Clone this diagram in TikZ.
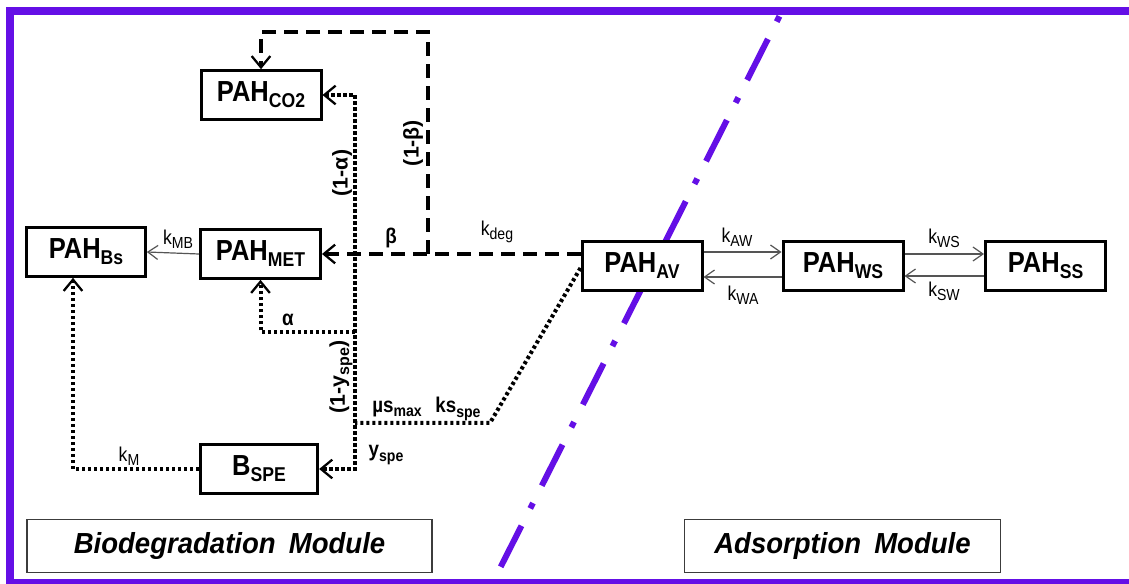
\documentclass[tikz,border=0pt]{standalone}
\usepackage{fontspec}
\setmainfont{Liberation Sans}[FakeStretch=0.88]
\newfontfamily\rotfont{Liberation Sans}
\newfontfamily\modfont{Liberation Sans}[FakeStretch=0.95]
\usetikzlibrary{arrows.meta,calc}
\definecolor{framec}{RGB}{100,15,230}
\definecolor{thinc}{RGB}{85,85,85}
\definecolor{modc}{RGB}{60,60,60}
\newcommand{\sbx}[1]{\raisebox{-4.5pt}{\fontsize{15pt}{15pt}\selectfont #1}}
\newcommand{\sbl}[1]{\raisebox{-3.2pt}{\fontsize{12pt}{12pt}\selectfont #1}}
\tikzset{
  box/.style={draw, line width=2.25pt, fill=white, minimum width=90pt, minimum height=36.5pt, inner sep=0pt,
    font=\fontsize{21.75pt}{24pt}\selectfont\bfseries},
  modbox/.style={draw=modc, line width=1.1pt, fill=white, inner sep=0pt, minimum height=39.5pt,
    font=\modfont\fontsize{21.75pt}{24pt}\selectfont\bfseries\itshape},
  lblb/.style={inner sep=0pt, font=\fontsize{16pt}{18pt}\selectfont\bfseries},
  lblrot/.style={inner sep=0pt, rotate=90, font=\rotfont\fontsize{16pt}{18pt}\selectfont\bfseries},
  lblr/.style={inner sep=0pt, font=\fontsize{15pt}{17pt}\selectfont},
  dsh/.style={line width=2.3pt, dash pattern=on 10.5pt off 6pt},
  dotl/.style={line width=3pt, dash pattern=on 2.4pt off 2.1pt},
  thn/.style={draw=thinc, line width=0.9pt},
  bigtip/.tip={Straight Barb[length=8.5pt,width=14pt,line width=1.7pt]},
  thintip/.tip={Straight Barb[length=7.5pt,width=10.5pt,line width=0.9pt]},
  purp/.style={draw=framec, line width=4.5pt, line cap=butt,
    dash pattern=on 4.5pt off 14.6pt on 34.5pt off 14.6pt}
}
\begin{document}
\begin{tikzpicture}[x=0.75pt,y=-0.75pt]
\useasboundingbox (0,0) rectangle (1129,584);
\clip (0,0) rectangle (1129,584);
\fill[white] (0,0) rectangle (1129,584);
% frame
\draw[framec, line width=6pt] (10,11) rectangle (1140,583);
% module divider
\coordinate (dtop) at (779.4,16.3);
\coordinate (dbot) at (492,584);
\draw[purp] (dtop) -- (dbot);

% boxes
\node[box] (co2) at (261,95) {PAH\sbx{CO2}};
\node[box, minimum width=89pt] (bs) at (86,252) {PAH\sbx{Bs}};
\node[box] (met) at (260.5,254) {PAH\sbx{MET}};
\node[box, minimum width=88pt] (bspe) at (259,469) {B\sbx{SPE}};
\node[box] (av) at (642,266) {PAH\sbx{AV}};
\node[box] (ws) at (843,266) {PAH\sbx{WS}};
\node[box] (ss) at (1045.5,266) {PAH\sbx{SS}};

% module labels
\node[modbox, minimum width=304pt] (bio) at (229.5,546) {Biodegradation\hspace{0.45em}Module};
\node[modbox, minimum width=237pt] (ads) at (842.5,546) {Adsorption\hspace{0.45em}Module};

% dashed degradation path
\coordinate (br) at (428,254);
\coordinate (tr) at (428,32);
\draw[dsh,-bigtip] ($(av.west)+(0,-12)$) -- (met.east);
\draw[dsh,-bigtip] (br) -- (tr) -| (co2.north);

% dotted paths
\coordinate (vt) at (355,95);
\coordinate (vb) at (355,469);
\coordinate (va) at (355,332);
\coordinate (vm) at (355,423);
\coordinate (dk) at (490,423);
\draw[dotl,bigtip-bigtip] (co2.east) -- (vt) -- (vb) -- (bspe.east);
\draw[dotl,-bigtip] (va) -| (met.south);
\draw[dotl] ($(av.west)+(0,2)$) -- (dk) -- (vm);
\draw[dotl,-bigtip] (bspe.west) -| ($(bs.south)+(-13,0)$);

% thin transfer arrows
\draw[thn,-thintip] ($(av.east)+(0,-14)$) -- ($(ws.west)+(0,-14)$);
\draw[thn,-thintip] ($(ws.west)+(0,11)$) -- ($(av.east)+(0,11)$);
\draw[thn,-thintip] ($(ws.east)+(0,-12)$) -- ($(ss.west)+(0,-12)$);
\draw[thn,-thintip] ($(ss.west)+(0,10)$) -- ($(ws.east)+(0,10)$);
\draw[thn,-thintip] (met.west) -- (bs.east);

% labels
\node[lblr] (lkmb) at (178,239) {k\sbl{MB}};
\node[lblr] (lkaw) at (737,237) {k\sbl{AW}};
\node[lblr] (lkwa) at (743,295) {k\sbl{WA}};
\node[lblr] (lkws) at (944,238) {k\sbl{WS}};
\node[lblr] (lksw) at (944,291) {k\sbl{SW}};
\node[lblr] (lkdeg) at (497,232) {k\sbl{deg}};
\node[lblr] (lkm) at (129,456) {k\sbl{M}};
\node[lblb] (lbeta) at (391,238) {β};
\node[lblrot] (l1b) at (413,143) {(1-β)};
\node[lblrot] (l1a) at (342,173) {(1-α)};
\node[lblb] (lalpha) at (288,320) {α};
\node[lblrot] (l1y) at (341,377) {(1-y\sbl{spe})};
\node[lblb] (lmu) at (397,409) {µs\sbl{max}};
\node[lblb] (lks) at (458,409) {ks\sbl{spe}};
\node[lblb] (lyspe) at (386,455) {y\sbl{spe}};
\end{tikzpicture}
\end{document}
